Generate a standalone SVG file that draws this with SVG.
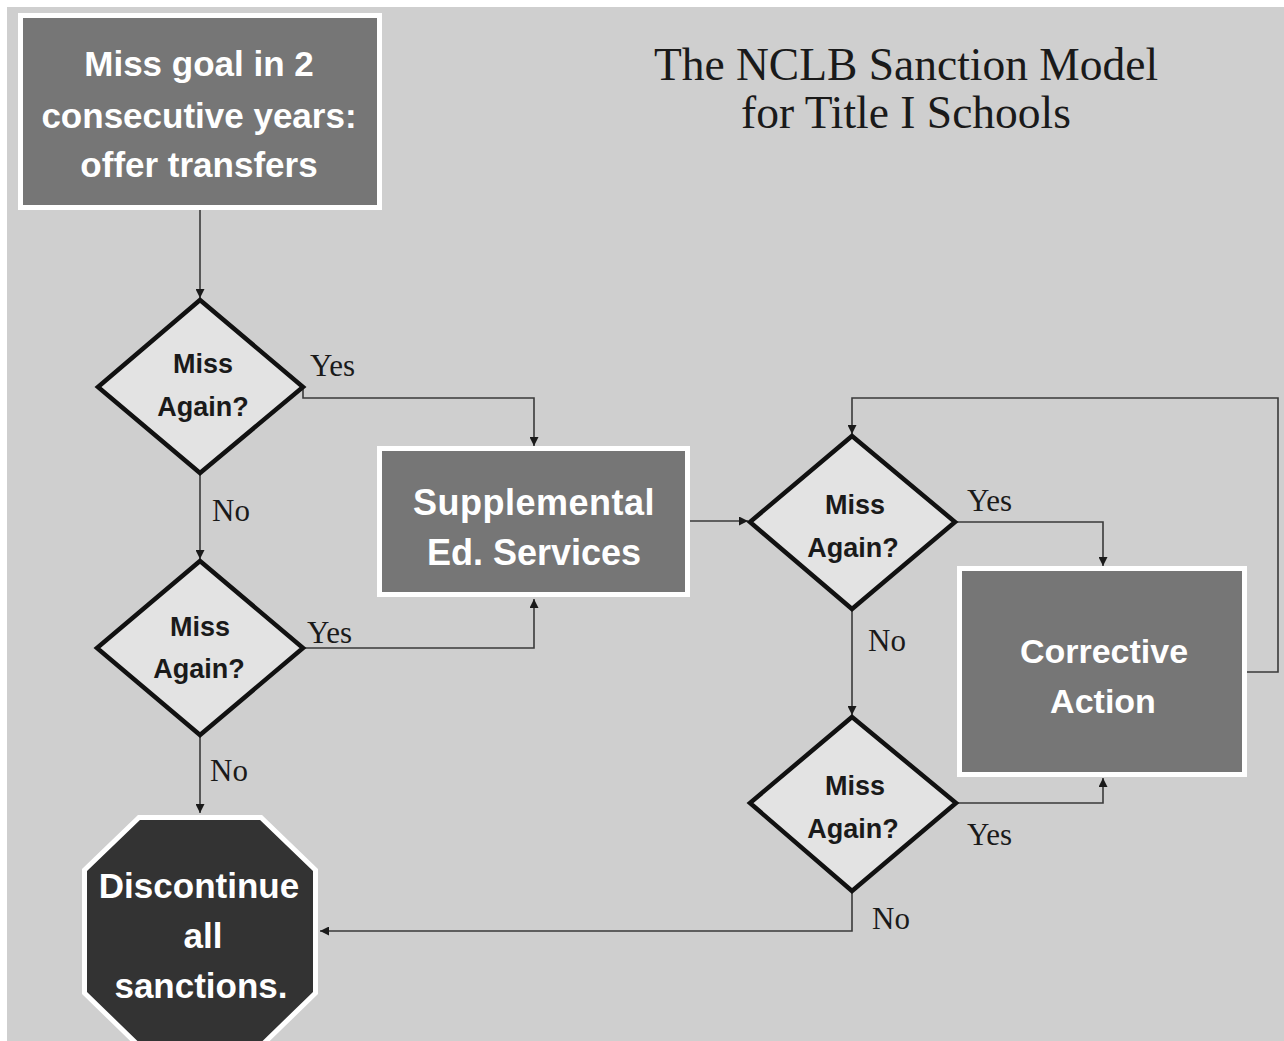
<svg xmlns="http://www.w3.org/2000/svg" width="1284" height="1041" viewBox="0 0 1284 1041">
<style>
.box{fill:#767676;stroke:#ffffff;stroke-width:5}
.dia{fill:#e3e3e3;stroke:#111111;stroke-width:4.5;stroke-linejoin:miter}
.oct{fill:#333333;stroke:#ffffff;stroke-width:5}
.wt{font-family:"Liberation Sans",Arial,sans-serif;font-weight:bold;fill:#ffffff;text-anchor:middle}
.bt{font-family:"Liberation Sans",Arial,sans-serif;font-weight:bold;fill:#1a1a1a;text-anchor:middle;font-size:27px}
.lbl{font-family:"Liberation Serif","Times New Roman",serif;fill:#1a1a1a;font-size:31px}
.ttl{font-family:"Liberation Serif","Times New Roman",serif;fill:#1a1a1a;font-size:45.5px;text-anchor:middle}
.con{fill:none;stroke:#3a3a3a;stroke-width:1.6;marker-end:url(#arr)}
</style>
<defs>
<marker id="arr" viewBox="0 0 10 10" refX="10" refY="5" markerWidth="9" markerHeight="9" markerUnits="userSpaceOnUse" orient="auto">
<path d="M0,0 L10,5 L0,10 Z" fill="#1a1a1a"/>
</marker>
</defs>
<rect x="0" y="0" width="1284" height="1041" fill="#ffffff"/>
<rect x="7" y="7" width="1277" height="1034" fill="#cfcfcf"/>
<text class="ttl" x="906" y="80">The NCLB Sanction Model</text>
<text class="ttl" x="906" y="128">for Title I Schools</text>
<g id="connectors">
<path class="con" d="M200,210 V298"/>
<path class="con" d="M303,387 V398 H534 V446"/>
<path class="con" d="M200,473 V559"/>
<path class="con" d="M303,648 H534 V599"/>
<path class="con" d="M200,735 V813"/>
<path class="con" d="M689,521 H748"/>
<path class="con" d="M955,522 H1103 V566"/>
<path class="con" d="M852,609 V715"/>
<path class="con" d="M956,803 H1103 V778"/>
<path class="con" d="M852,891 V931 H320"/>
<path class="con" d="M1247,672 H1278 V398 H852 V434"/>
<text class="lbl" x="310" y="376">Yes</text>
<text class="lbl" x="212" y="521">No</text>
<text class="lbl" x="307" y="643">Yes</text>
<text class="lbl" x="210" y="781">No</text>
<text class="lbl" x="967" y="511">Yes</text>
<text class="lbl" x="868" y="651">No</text>
<text class="lbl" x="967" y="845">Yes</text>
<text class="lbl" x="872" y="929">No</text>
</g>
<g id="start">
<rect class="box" x="20.5" y="15.5" width="359" height="192"/>
<text class="wt" font-size="35" x="199" y="76">Miss goal in 2</text>
<text class="wt" font-size="35" x="199" y="128">consecutive years:</text>
<text class="wt" font-size="35" x="199" y="177">offer transfers</text>
</g>
<g id="d1">
<polygon class="dia" points="200,300 303,387 200,473 98,387"/>
<text class="bt" x="203" y="373">Miss</text>
<text class="bt" x="203" y="416">Again?</text>
</g>
<g id="d2">
<polygon class="dia" points="200,561 303,648 200,735 97,648"/>
<text class="bt" x="200" y="636">Miss</text>
<text class="bt" x="199" y="678">Again?</text>
</g>
<g id="ses">
<rect class="box" x="379.5" y="448.5" width="308" height="146"/>
<text class="wt" font-size="36" x="534" y="515" letter-spacing="0.5">Supplemental</text>
<text class="wt" font-size="36" x="534" y="565">Ed. Services</text>
</g>
<g id="d3">
<polygon class="dia" points="852,436 955,522 852,609 750,522"/>
<text class="bt" x="855" y="514">Miss</text>
<text class="bt" x="853" y="557">Again?</text>
</g>
<g id="d4">
<polygon class="dia" points="852,717 956,803 852,891 750,803"/>
<text class="bt" x="855" y="795">Miss</text>
<text class="bt" x="853" y="838">Again?</text>
</g>
<g id="corrective">
<rect class="box" x="959.5" y="568.5" width="285" height="206"/>
<text class="wt" font-size="34" x="1104" y="663">Corrective</text>
<text class="wt" font-size="34" x="1103" y="713">Action</text>
</g>
<g id="stop">
<polygon class="oct" points="139,817.5 261,817.5 315.5,870 315.5,993 261,1046 139,1046 84.5,993 84.5,870"/>
<text class="wt" font-size="35" x="199" y="898">Discontinue</text>
<text class="wt" font-size="35" x="203" y="948">all</text>
<text class="wt" font-size="35" x="201" y="998">sanctions.</text>
</g>
</svg>
